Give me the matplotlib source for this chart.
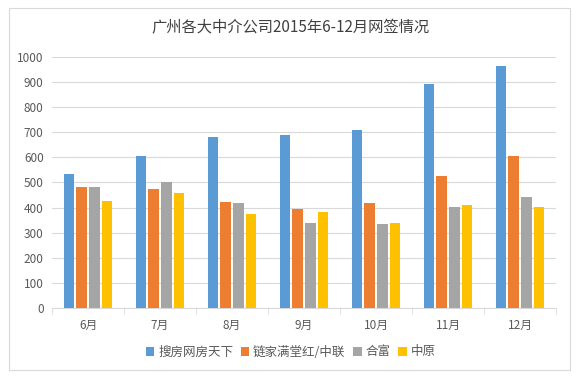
import numpy as np
import matplotlib.pyplot as plt
from matplotlib.patches import Rectangle

plt.rcParams['font.family'] = ['Noto Sans CJK SC', 'DejaVu Sans']

months = ["6月", "7月", "8月", "9月", "10月", "11月", "12月"]
series_names = ["搜房网房天下", "链家满堂红/中联", "合富", "中原"]
soufun = [534, 606, 681, 689, 709, 892, 964]
lianjia = [482, 474, 422, 394, 418, 526, 606]
hefu = [482, 502, 418, 339, 335, 402, 442]
zhongyuan = [426, 458, 375, 382, 339, 410, 402]
series_values = [soufun, lianjia, hefu, zhongyuan]
colors = ["#5B9BD5", "#ED7D31", "#A5A5A5", "#FFC000"]

fig = plt.figure(figsize=(5.81, 3.78), dpi=100)
fig.patches.append(Rectangle((9 / 581, 8 / 378), 561 / 581, 362 / 378,
                             transform=fig.transFigure, fill=False,
                             edgecolor="#D9D9D9", linewidth=0.8))
ax = fig.add_axes([52 / 581, 70 / 378, 504 / 581, 251 / 378])

x = np.arange(len(months))
width = 0.14
offsets = [-0.27, -0.09, 0.09, 0.27]
for vals, off, c, name in zip(series_values, offsets, colors, series_names):
    ax.bar(x + off, vals, width, color=c, label=name, zorder=3)

ax.set_xlim(-0.5, len(months) - 0.5)
ax.set_ylim(0, 1000)
ax.set_yticks(range(0, 1001, 100))
ax.set_xticks(x)
ax.set_xticklabels(months)
ax.set_xticks(np.arange(-0.5, len(months), 1), minor=True)
ax.tick_params(axis="x", which="major", length=0, pad=8)
ax.tick_params(axis="x", which="minor", length=4, color="#D9D9D9")
ax.tick_params(axis="y", length=0, pad=6)
ax.tick_params(labelsize=8.5, labelcolor="#595959")
ax.grid(axis="y", color="#D9D9D9", linewidth=0.8, zorder=0)
for s in ["top", "right", "left"]:
    ax.spines[s].set_visible(False)
ax.spines["bottom"].set_color("#D9D9D9")

fig.text(0.5, 0.927, "广州各大中介公司2015年6-12月网签情况", ha="center", va="center",
         fontsize=11, color="#404040")
fig.legend(loc="center", bbox_to_anchor=(0.5, 352 / 378 * 0 + (378 - 352) / 378),
           ncol=4, frameon=False, fontsize=9, handlelength=0.7, handleheight=0.7,
           handletextpad=0.3, columnspacing=0.6, labelcolor="#595959")

fig.savefig("out.png", dpi=100)
